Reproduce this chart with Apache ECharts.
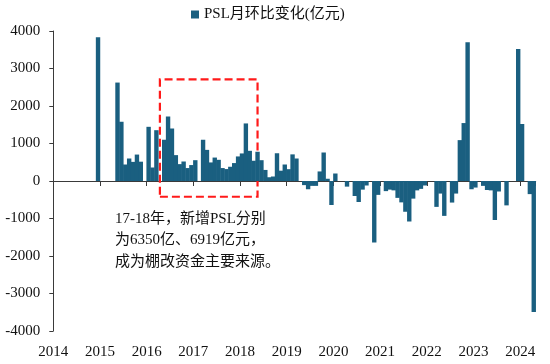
<!DOCTYPE html>
<html><head><meta charset="utf-8">
<script src="https://cdn.jsdelivr.net/npm/echarts@6/dist/echarts.min.js"></script>
<style>html,body{margin:0;padding:0;background:#fff}#c{width:550px;height:364px}</style>
</head><body><div id="c"></div>
<script>
// ---- data ----
const startYear = 2014;
const yearLabels = ['2014','2015','2016','2017','2018','2019','2020','2021','2022','2023','2024'];
const seriesName = 'PSL月环比变化(亿元)';
const psl2014 = [0,0,0,0,0,0,0,0,0,0,0,3831];
const psl2015 = [0,0,0,0,2625,1580,440,600,510,705,515,0];
const psl2016 = [1445,360,1355,0,1100,1720,1400,690,450,520,345,425];
const psl2017 = [555,0,1100,830,495,625,565,345,318,380,478,655];
const psl2018 = [735,1535,805,540,780,555,295,100,120,740,275,440];
const psl2019 = [315,710,600,0,-110,-220,-130,-130,255,760,60,-640];
const psl2020 = [200,0,0,-150,0,-400,-560,-230,-120,0,-1640,-370];
const psl2021 = [0,-270,-230,-250,-450,-570,-820,-1080,-470,-250,-210,-120];
const psl2022 = [0,0,-690,-335,-930,0,-575,-335,1090,1545,3700,-220];
const psl2023 = [-175,0,-130,-240,-250,-1040,-280,0,-650,0,0,3520];
const psl2024 = [1520,0,-350,-3490];
const yTicks = [-4000,-3000,-2000,-1000,0,1000,2000,3000,4000];
const annotationLines = ['17-18年，新增PSL分别','为6350亿、6919亿元，','成为棚改资金主要来源。'];
// highlighted period (months since Jan 2014, value range)
const boxMonths = [27.4, 52.5];
const boxValues = [-420, 2710];

// ---- build ----
const monthly = [].concat(psl2014,psl2015,psl2016,psl2017,psl2018,psl2019,psl2020,psl2021,psl2022,psl2023,psl2024);
const nMonths = monthly.length;
const barData = monthly.map((v,i)=>[i+0.5, v]);

const gridLeft = 53.3, gridRight = 14.3, gridTop = 31, gridBottom = 33;
const W = 550;
const barW = (W - gridLeft - gridRight) / nMonths + 0.5;
const serif = "'Liberation Serif','Times New Roman','Noto Sans CJK SC',serif";
const axisColor = '#3a3a3a';

const chart = echarts.init(document.getElementById('c'), null, {renderer:'canvas'});
chart.setOption({
  animation:false,
  backgroundColor:'#fff',
  legend:{
    data:[seriesName], left:186, top:2, icon:'rect', itemWidth:8, itemHeight:8, itemGap:4,
    textStyle:{fontFamily:serif, fontSize:15, color:'#111'}
  },
  grid:{left:gridLeft, right:gridRight, top:gridTop, bottom:gridBottom},
  xAxis:[
    {type:'value', min:0, max:nMonths, interval:12,
     axisLine:{show:false, onZero:false}, axisTick:{show:false}, splitLine:{show:false},
     axisLabel:{margin:14, fontFamily:serif, fontSize:15, color:'#111',
       formatter:v=> (v%12===0 ? yearLabels[v/12] : '')}},
    {type:'value', min:0, max:nMonths, interval:12, position:'bottom',
     axisLine:{show:true, onZero:true, lineStyle:{color:axisColor, width:1}},
     axisTick:{show:true, length:5, lineStyle:{color:axisColor}},
     axisLabel:{show:false}, splitLine:{show:false}}
  ],
  yAxis:{type:'value', min:yTicks[0], max:yTicks[yTicks.length-1], interval:1000,
    axisLine:{show:true, lineStyle:{color:axisColor}},
    axisTick:{show:true, length:4, lineStyle:{color:axisColor}},
    splitLine:{show:false},
    axisLabel:{margin:13, fontFamily:serif, fontSize:15, color:'#111', formatter:v=>String(v)}},
  series:[{
    name:seriesName, type:'bar', xAxisIndex:0, data:barData, barWidth:barW,
    itemStyle:{color:'#1a5f80'},
    markArea:{silent:true,
      itemStyle:{color:'rgba(0,0,0,0)', borderColor:'#ff1a1a', borderWidth:2.2, borderType:[8,4]},
      data:[[{coord:[boxMonths[0], boxValues[1]]},{coord:[boxMonths[1], boxValues[0]]}]]}
  }],
  graphic:[{type:'text', left:115, top:208,
    style:{text:annotationLines.join('\n'), font:'15px '+serif, lineHeight:21.5, fill:'#111'}}]
});
</script></body></html>
